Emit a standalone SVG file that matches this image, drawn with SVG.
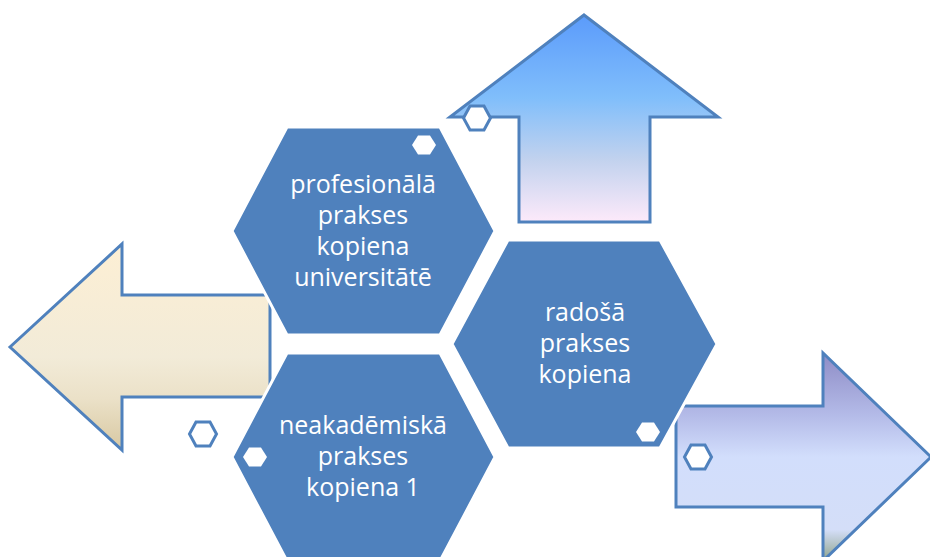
<svg xmlns="http://www.w3.org/2000/svg" width="930" height="557" viewBox="0 0 930 557">
  <defs>
    <linearGradient id="gUp" x1="0" y1="15" x2="0" y2="222" gradientUnits="userSpaceOnUse">
      <stop offset="0" stop-color="#5b9bfb"/>
      <stop offset="0.4" stop-color="#80befb"/>
      <stop offset="0.7" stop-color="#c2d2ee"/>
      <stop offset="1" stop-color="#fdeafa"/>
    </linearGradient>
    <linearGradient id="gLeft" x1="0" y1="244" x2="0" y2="450" gradientUnits="userSpaceOnUse">
      <stop offset="0" stop-color="#fdefd4"/>
      <stop offset="0.55" stop-color="#f2ebd8"/>
      <stop offset="0.75" stop-color="#ebe1c8"/>
      <stop offset="1" stop-color="#d8c8a2"/>
    </linearGradient>
    <linearGradient id="gRight" x1="0" y1="353" x2="0" y2="561" gradientUnits="userSpaceOnUse">
      <stop offset="0" stop-color="#8e8cc6"/>
      <stop offset="0.3" stop-color="#b4bbe8"/>
      <stop offset="0.5" stop-color="#d2defc"/>
      <stop offset="0.85" stop-color="#d4def8"/>
      <stop offset="1" stop-color="#8ea38a"/>
    </linearGradient>
    <polygon id="smallOutline" points="-13.5,0 -7,-12 7,-12 13.5,0 7,12 -7,12"/>
    <polygon id="smallSolid" points="-12,0 -6,-9.5 6,-9.5 12,0 6,9.5 -6,9.5"/>
  </defs>
  <style>
    .arrow { stroke: #4f81bd; stroke-width: 3; stroke-linejoin: miter; }
    .hex { fill: #4f81bd; stroke: #ffffff; stroke-width: 3; }
    .ohex { fill: #ffffff; stroke: #4f81bd; stroke-width: 3; }
    .shex { fill: #ffffff; stroke: none; }
    .lbl { font-family: "Open Sans", "DejaVu Sans", sans-serif; font-size: 25px; fill: #ffffff; text-anchor: middle; }
  </style>
  <rect width="930" height="557" fill="#ffffff"/>
  <g id="connectors">
    <polygon id="arrow-up" class="arrow" fill="url(#gUp)" points="584,15 718,117 650,117 650,222 519,222 519,117 450,117"/>
    <polygon id="arrow-left" class="arrow" fill="url(#gLeft)" points="10,347 122,244 122,295 270,295 270,397 122,397 122,450"/>
    <polygon id="arrow-right" class="arrow" fill="url(#gRight)" points="676,406 823,406 823,353 931,457 823,561 823,507 676,507"/>
  </g>
  <g id="node-profesionala">
    <polygon class="hex" points="232,231 287,127 440,127 495,231 440,335 287,335"/>
    <use href="#smallSolid" class="shex" x="424" y="145"/>
    <text class="lbl" x="363" y="193">profesionālā</text>
    <text class="lbl" x="363" y="224">prakses</text>
    <text class="lbl" x="363" y="255">kopiena</text>
    <text class="lbl" x="363" y="286">universitātē</text>
  </g>
  <g id="node-neakademiska">
    <polygon class="hex" points="232,457 287,353 440,353 495,457 440,561 287,561"/>
    <use href="#smallSolid" class="shex" x="255" y="457"/>
    <text class="lbl" x="363" y="434">neakadēmiskā</text>
    <text class="lbl" x="363" y="465">prakses</text>
    <text class="lbl" x="363" y="496">kopiena 1</text>
  </g>
  <g id="node-radosa">
    <polygon class="hex" points="452,344 508,240 660,240 717,344 660,448 508,448"/>
    <use href="#smallSolid" class="shex" x="648" y="432"/>
    <text class="lbl" x="585" y="321">radošā</text>
    <text class="lbl" x="585" y="352">prakses</text>
    <text class="lbl" x="585" y="383">kopiena</text>
  </g>
  <g id="node-small-top">
    <use href="#smallOutline" class="ohex" x="477" y="118"/>
  </g>
  <g id="node-small-left">
    <use href="#smallOutline" class="ohex" x="203" y="434"/>
  </g>
  <g id="node-small-right">
    <use href="#smallOutline" class="ohex" x="698" y="457"/>
  </g>
</svg>
